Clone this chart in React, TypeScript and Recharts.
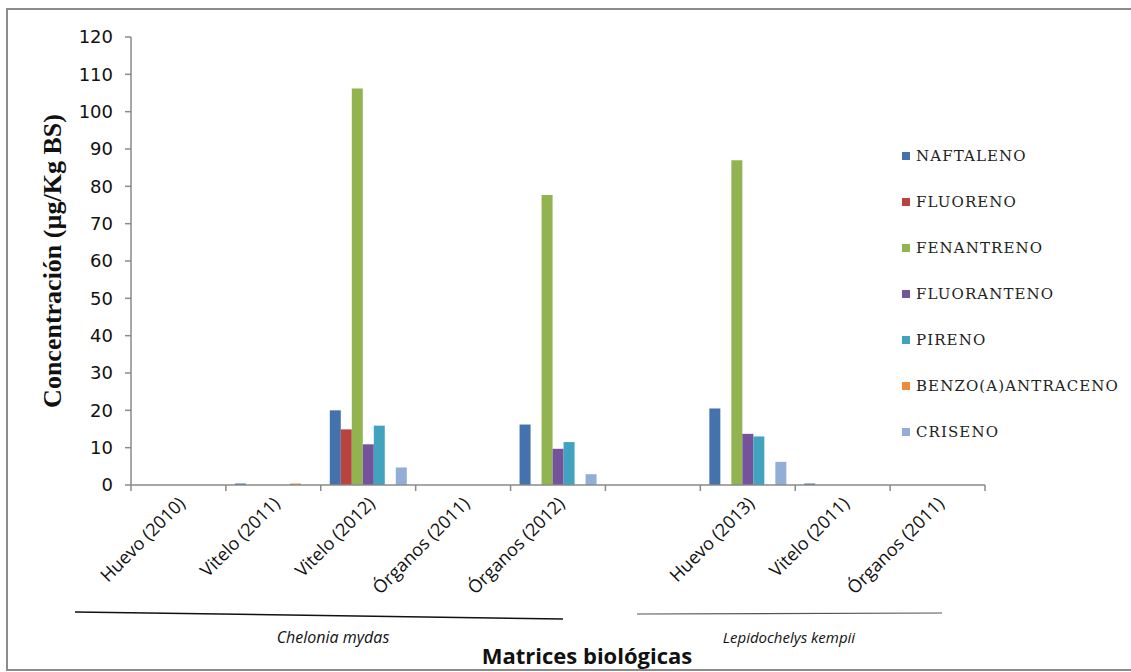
import React from 'react'
import { BarChart, Bar, XAxis, YAxis, Legend } from 'recharts'

const matrices = ['Huevo (2010)', 'Vitelo (2011)', 'Vitelo (2012)', 'Órganos (2011)', 'Órganos (2012)', '', 'Huevo (2013)', 'Vitelo (2011)', 'Órganos (2011)']

const naftaleno = [0, 0.4, 20, 0, 16.2, 0, 20.5, 0.4, 0]
const fluoreno = [0, 0, 14.9, 0, 0, 0, 0, 0, 0]
const fenantreno = [0, 0, 106.2, 0, 77.7, 0, 87, 0, 0]
const fluoranteno = [0, 0, 10.9, 0, 9.7, 0, 13.7, 0, 0]
const pireno = [0, 0, 15.9, 0, 11.5, 0, 13, 0, 0]
const benzoAntraceno = [0, 0.4, 0, 0, 0, 0, 0, 0, 0]
const criseno = [0, 0, 4.7, 0, 2.9, 0, 6.2, 0, 0]

const yTicks = [0, 10, 20, 30, 40, 50, 60, 70, 80, 90, 100, 110, 120]

const series = [
  { key: 'naftaleno', name: 'NAFTALENO', values: naftaleno, color: '#4472ad' },
  { key: 'fluoreno', name: 'FLUORENO', values: fluoreno, color: '#b8433f' },
  { key: 'fenantreno', name: 'FENANTRENO', values: fenantreno, color: '#92b450' },
  { key: 'fluoranteno', name: 'FLUORANTENO', values: fluoranteno, color: '#74539c' },
  { key: 'pireno', name: 'PIRENO', values: pireno, color: '#41a3bd' },
  { key: 'benzo', name: 'BENZO(A)ANTRACENO', values: benzoAntraceno, color: '#ee8a3e' },
  { key: 'criseno', name: 'CRISENO', values: criseno, color: '#93aed6' },
]

const data = matrices.map((matriz, i) => {
  const row: Record<string, string | number> = { matriz }
  series.forEach((s) => { row[s.key] = s.values[i] })
  return row
})

const W = 1131
const H = 672
const PLOT_LEFT = 131
const PLOT_RIGHT = 985
const PLOT_TOP = 37
const PLOT_BOTTOM = 485
const X_AXIS_H = 130
const BAND = (PLOT_RIGHT - PLOT_LEFT) / matrices.length
const AXIS_GRAY = '#8a8a8a'
const LEGEND_FONT = '"DejaVu Serif", "Liberation Serif", serif'

// Excel-style category ticks: marks sit between categories, labels at 45°
function MatrizTick(props: any) {
  const { x, y, payload, index } = props
  const left = x - BAND / 2
  const ax = x - 3
  const ay = y + 1
  return (
    <g>
      <line x1={left} y1={y - 8} x2={left} y2={y - 2} stroke={AXIS_GRAY} strokeWidth={1.5} />
      {index === matrices.length - 1 && (
        <line x1={left + BAND} y1={y - 8} x2={left + BAND} y2={y - 2} stroke={AXIS_GRAY} strokeWidth={1.5} />
      )}
      <text
        x={ax}
        y={ay}
        textAnchor="end"
        dominantBaseline="hanging"
        transform={`rotate(-45, ${ax}, ${ay})`}
        style={{ fontFamily: '"Open Sans", sans-serif', fontSize: 18, fill: '#111' }}
      >
        {payload.value}
      </text>
    </g>
  )
}

function LegendBox() {
  return (
    <div style={{ fontFamily: LEGEND_FONT, fontSize: 15, color: '#222', letterSpacing: 1.1 }}>
      {series.map((s) => (
        <div key={s.key} style={{ height: 46, display: 'flex', alignItems: 'center' }}>
          <span style={{ width: 8, height: 8, background: s.color, marginRight: 6, display: 'inline-block' }} />
          <span style={{ fontFamily: LEGEND_FONT }}>{s.name}</span>
        </div>
      ))}
    </div>
  )
}

// group brackets under the category labels plus the axis titles
function Annotations() {
  return (
    <g>
      <line x1={75} y1={612} x2={563} y2={619} stroke="#111" strokeWidth={1.5} />
      <line x1={637} y1={614} x2={942} y2={613} stroke="#555" strokeWidth={1.2} />
      <text x={333} y={643} textAnchor="middle" style={{ fontFamily: '"Open Sans", sans-serif', fontSize: 16, fontStyle: 'italic', fill: '#111' }}>
        Chelonia mydas
      </text>
      <text x={789} y={643} textAnchor="middle" style={{ fontFamily: '"Open Sans", sans-serif', fontSize: 15, fontStyle: 'italic', fill: '#111' }}>
        Lepidochelys kempii
      </text>
      <text x={587} y={664} textAnchor="middle" style={{ fontFamily: '"Open Sans", sans-serif', fontSize: 22, fontWeight: 'bold', fill: '#111' }}>
        Matrices biológicas
      </text>
      <text
        x={61}
        y={261}
        textAnchor="middle"
        transform="rotate(-90, 61, 261)"
        style={{ fontFamily: '"Liberation Serif", serif', fontSize: 26, fontWeight: 'bold', fill: '#111' }}
      >
        Concentración (µg/Kg BS)
      </text>
    </g>
  )
}

export default function App() {
  return (
    <div style={{ position: 'absolute', left: 0, top: 0, width: W, height: H, background: '#fff', overflow: 'hidden' }}>
      <div style={{ position: 'absolute', left: 6, top: 8, width: W + 20, height: 659, border: '2px solid #8c8c8c', borderRight: 'none' }} />
      <BarChart
        width={W}
        height={H}
        data={data}
        barGap={0}
        barCategoryGap="9.5%"
        margin={{ top: PLOT_TOP, right: W - PLOT_RIGHT, bottom: H - PLOT_BOTTOM - X_AXIS_H, left: 0 }}
      >
        <XAxis
          dataKey="matriz"
          height={X_AXIS_H}
          interval={0}
          tickLine={false}
          axisLine={{ stroke: AXIS_GRAY, strokeWidth: 1.5 }}
          tick={<MatrizTick />}
        />
        <YAxis
          width={PLOT_LEFT}
          domain={[0, 120]}
          ticks={yTicks}
          interval={0}
          tickSize={6}
          tickMargin={12}
          axisLine={{ stroke: AXIS_GRAY, strokeWidth: 1.5 }}
          tickLine={{ stroke: AXIS_GRAY, strokeWidth: 1.5 }}
          tick={{ fontFamily: '"DejaVu Sans", sans-serif', fontSize: 18, fill: '#111' }}
        />
        <Legend
          layout="vertical"
          align="center"
          verticalAlign="middle"
          wrapperStyle={{ left: 902, top: 133, width: 229 }}
          content={() => <LegendBox />}
        />
        {series.map((s) => (
          <Bar key={s.key} dataKey={s.key} name={s.name} fill={s.color} isAnimationActive={false} />
        ))}
        <Annotations />
      </BarChart>
    </div>
  )
}
